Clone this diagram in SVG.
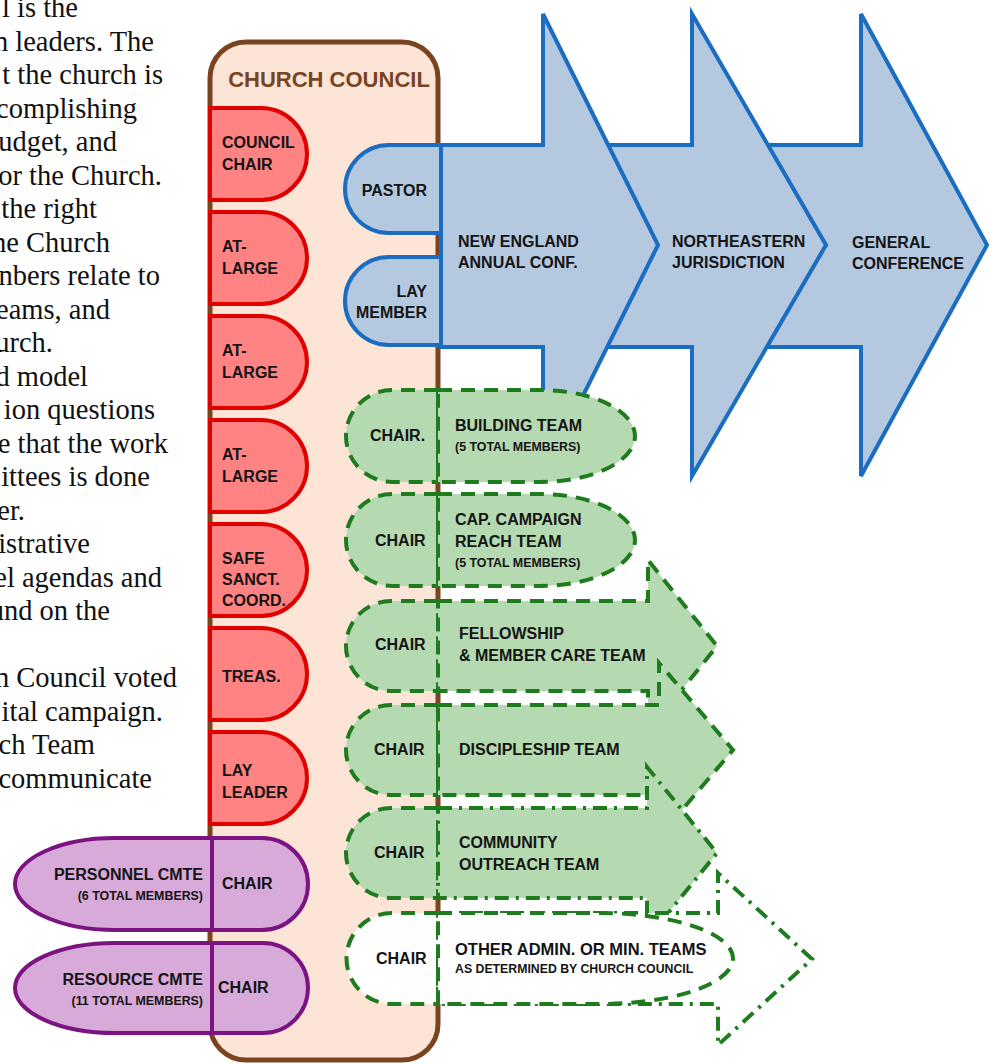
<svg xmlns="http://www.w3.org/2000/svg" width="992" height="1064" viewBox="0 0 992 1064">
<style>
.body{font-family:"Liberation Serif","Times New Roman",serif;font-size:28.5px;fill:#111;text-anchor:end}
.lb{font-family:"Liberation Sans",Arial,sans-serif;font-weight:bold;fill:#141414}
.t16{font-size:16px}
.t12{font-size:12.4px}
.red{fill:#FF8383;stroke:#E00000;stroke-width:4}
.blue{fill:#B4C8E0;stroke:#1A6DC0;stroke-width:4;stroke-linejoin:miter}
.grn{fill:#B5D9B1;stroke:#1E7B1E;stroke-width:4;stroke-dasharray:14 9}
.grnd{fill:#B5D9B1;stroke:#1E7B1E;stroke-width:4;stroke-dasharray:14 7 3 7}
.wht{fill:#FFFFFF;stroke:#1E7B1E;stroke-width:4;stroke-dasharray:14 9}
.whtd{fill:#FFFFFF;stroke:#1E7B1E;stroke-width:4;stroke-dasharray:14 7 3 7}
.pur{fill:#D7AAD9;stroke:#7B1380;stroke-width:4}
</style>
<g id="intro-text">
<text class="body" x="78" y="17">l is the</text>
<text class="body" x="154" y="50.5">n leaders. The</text>
<text class="body" x="163" y="84">t the church is</text>
<text class="body" x="137" y="117.5">complishing</text>
<text class="body" x="117" y="151">udget, and</text>
<text class="body" x="162" y="184.5">or the Church.</text>
<text class="body" x="97" y="218">the right</text>
<text class="body" x="110" y="251.5">he Church</text>
<text class="body" x="160" y="285">nbers relate to</text>
<text class="body" x="110" y="318.5">eams, and</text>
<text class="body" x="53" y="352">urch.</text>
<text class="body" x="88" y="385.5">d model</text>
<text class="body" x="155" y="419">ion questions</text>
<text class="body" x="168" y="452.5">e that the work</text>
<text class="body" x="150" y="486">ittees is done</text>
<text class="body" x="25" y="519.5">er.</text>
<text class="body" x="90" y="553">istrative</text>
<text class="body" x="162" y="586.5">el agendas and</text>
<text class="body" x="110" y="620">und on the</text>
<text class="body" x="177" y="687">n Council voted</text>
<text class="body" x="163" y="720.5">ital campaign.</text>
<text class="body" x="95" y="754">ch Team</text>
<text class="body" x="152" y="787.5">communicate</text>
</g>
<g id="church-council">
<rect x="210" y="42" width="228" height="1018" rx="36" fill="#FCE4D6" stroke="#7A4420" stroke-width="5"/>
<text class="lb" x="329" y="87" text-anchor="middle" font-size="22" style="fill:#7A4420">CHURCH COUNCIL</text>
</g>
<g id="council-members">
<path class="red" d="M210,108 H261 A46,46 0 0 1 261,200 H210 Z"/>
<path class="red" d="M210,212 H261 A46,46 0 0 1 261,304 H210 Z"/>
<path class="red" d="M210,316 H261 A46,46 0 0 1 261,408 H210 Z"/>
<path class="red" d="M210,420 H261 A46,46 0 0 1 261,512 H210 Z"/>
<path class="red" d="M210,524 H261 A46,46 0 0 1 261,616 H210 Z"/>
<path class="red" d="M210,628 H261 A46,46 0 0 1 261,720 H210 Z"/>
<path class="red" d="M210,732 H261 A46,46 0 0 1 261,824 H210 Z"/>
<text class="lb t16" x="222" y="148">COUNCIL</text>
<text class="lb t16" x="222" y="170">CHAIR</text>
<text class="lb t16" x="222" y="252">AT-</text>
<text class="lb t16" x="222" y="274">LARGE</text>
<text class="lb t16" x="222" y="356">AT-</text>
<text class="lb t16" x="222" y="378">LARGE</text>
<text class="lb t16" x="222" y="460">AT-</text>
<text class="lb t16" x="222" y="482">LARGE</text>
<text class="lb t16" x="222" y="564">SAFE</text>
<text class="lb t16" x="222" y="585">SANCT.</text>
<text class="lb t16" x="222" y="606">COORD.</text>
<text class="lb t16" x="222" y="682">TREAS.</text>
<text class="lb t16" x="222" y="776">LAY</text>
<text class="lb t16" x="222" y="798">LEADER</text>
</g>
<g id="connectors">
<path class="blue" d="M760,145 H861 V14 L987,245 L861,476 V347 H760 Z"/>
<path class="blue" d="M600,145 H692 V14 L826,245 L692,476 V347 H600 Z"/>
<path class="blue" d="M441,145 H543 V14 L658,245 L543,476 V347 H441 Z"/>
</g>
<g id="conferences">
<text class="lb t16" x="458" y="247">NEW ENGLAND</text>
<text class="lb t16" x="458" y="268">ANNUAL CONF.</text>
<text class="lb t16" x="672" y="247">NORTHEASTERN</text>
<text class="lb t16" x="672" y="268">JURISDICTION</text>
<text class="lb t16" x="852" y="248">GENERAL</text>
<text class="lb t16" x="852" y="269">CONFERENCE</text>
</g>
<g id="pastor">
<path class="blue" d="M441,145 H389 A44,44 0 0 0 389,233 H441 Z"/>
<text class="lb t16" x="427" y="196" text-anchor="end">PASTOR</text>
</g>
<g id="lay-member">
<path class="blue" d="M441,257 H389 A44,44 0 0 0 389,345 H441 Z"/>
<text class="lb t16" x="427" y="297" text-anchor="end">LAY</text>
<text class="lb t16" x="427" y="318" text-anchor="end">MEMBER</text>
</g>
<g id="building-team">
<path class="grn" d="M438,390 H392 A46,46 0 0 0 392,482 H438 Z"/>
<path class="grn" d="M438,390 H540 A95,46 0 0 1 540,482 H438 Z"/>
<text class="lb t16" x="370" y="441">CHAIR.</text>
<text class="lb t16" x="455" y="431">BUILDING TEAM</text>
<text class="lb t12" x="455" y="451">(5 TOTAL MEMBERS)</text>
</g>
<g id="cap-campaign-team">
<path class="grn" d="M438,494 H392 A46,46 0 0 0 392,586 H438 Z"/>
<path class="grn" d="M438,494 H540 A95,46 0 0 1 540,586 H438 Z"/>
<text class="lb t16" x="375" y="546">CHAIR</text>
<text class="lb t16" x="455" y="525">CAP. CAMPAIGN</text>
<text class="lb t16" x="455" y="547">REACH TEAM</text>
<text class="lb t12" x="455" y="567">(5 TOTAL MEMBERS)</text>
</g>
<g id="fellowship-team">
<path class="grn" d="M438,601 H391 A45,45 0 0 0 391,691 H438 Z"/>
<path class="grn" d="M438,601 H648 V560 L717,646 L648,732 V691 H438 Z"/>
<text class="lb t16" x="375" y="650">CHAIR</text>
<text class="lb t16" x="459" y="639">FELLOWSHIP</text>
<text class="lb t16" x="459" y="661">&amp; MEMBER CARE TEAM</text>
</g>
<g id="discipleship-team">
<path class="grn" d="M438,705 H391 A45,45 0 0 0 391,795 H438 Z"/>
<path class="grn" d="M438,705 H659 V663 L733,750 L659,837 V795 H438 Z"/>
<text class="lb t16" x="374" y="755">CHAIR</text>
<text class="lb t16" x="459" y="755">DISCIPLESHIP TEAM</text>
</g>
<g id="community-outreach-team">
<path class="grn" d="M438,808 H391 A45,45 0 0 0 391,898 H438 Z"/>
<path class="grnd" d="M438,808 H647 V767 L717,853 L647,939 V898 H438 Z"/>
<text class="lb t16" x="374" y="858">CHAIR</text>
<text class="lb t16" x="459" y="848">COMMUNITY</text>
<text class="lb t16" x="459" y="870">OUTREACH TEAM</text>
</g>
<g id="other-teams">
<path class="wht" d="M438,913 H392 A45.5,45.5 0 0 0 392,1004 H438 Z"/>
<path class="whtd" d="M438,913 H718 V873 L812,959 L718,1045 V1004 H438 Z"/>
<path class="wht" d="M438,913 H600 A133,45.5 0 0 1 600,1004 H438 Z"/>
<text class="lb t16" x="376" y="964">CHAIR</text>
<text class="lb" x="455" y="955" font-size="16.5">OTHER ADMIN. OR MIN. TEAMS</text>
<text class="lb" x="455" y="973" font-size="12.3">AS DETERMINED BY CHURCH COUNCIL</text>
</g>
<g id="personnel-cmte">
<path class="pur" d="M212,838 H115 A100,46 0 0 0 115,930 H212 Z"/>
<path class="pur" d="M212,838 H262 A46,46 0 0 1 262,930 H212 Z"/>
<text class="lb t16" x="203" y="880" text-anchor="end">PERSONNEL CMTE</text>
<text class="lb t12" x="203" y="900" text-anchor="end">(6 TOTAL MEMBERS)</text>
<text class="lb t16" x="222" y="889">CHAIR</text>
</g>
<g id="resource-cmte">
<path class="pur" d="M212,943 H115 A100,45 0 0 0 115,1033 H212 Z"/>
<path class="pur" d="M212,943 H263 A45,45 0 0 1 263,1033 H212 Z"/>
<text class="lb t16" x="203" y="985" text-anchor="end">RESOURCE CMTE</text>
<text class="lb t12" x="203" y="1005" text-anchor="end">(11 TOTAL MEMBERS)</text>
<text class="lb t16" x="218" y="993">CHAIR</text>
</g>
</svg>
